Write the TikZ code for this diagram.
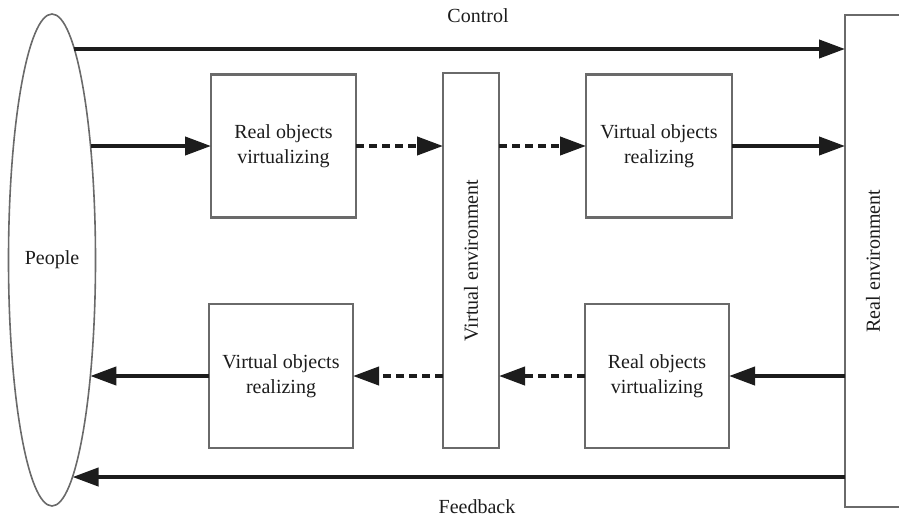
\documentclass[tikz,border=0pt]{standalone}
\usepackage{fontspec}
\setmainfont{Liberation Serif}
\usetikzlibrary{arrows.meta,shapes.geometric}

\definecolor{edge}{HTML}{6A6A6A}
\definecolor{ink}{HTML}{1C1C1C}

\tikzset{
  lbl/.style={font=\fontsize{20}{25}\selectfont, text=ink},
  block/.style={draw=edge, line width=2.4pt, fill=white, inner sep=0pt, outer sep=0pt,
    lbl, align=center},
  flow/.style={draw=ink, line width=4pt, -{Triangle[length=26pt,width=18pt]}},
  vflow/.style={flow, dash pattern=on 8pt off 5pt},
}

\begin{document}
\begin{tikzpicture}[x=1pt, y=-1pt]
  \useasboundingbox (0,0) rectangle (899,519);

  % people and the two environments
  \node[ellipse, draw=edge, line width=1.6pt, inner sep=0pt, outer sep=0pt,
        minimum width=87pt, minimum height=492pt, lbl] (people) at (52,260) {People};
  \node[block, minimum width=56pt, minimum height=375pt] (venv) at (471,260.5)
        {\rotatebox{90}{Virtual environment}};
  \node[block, minimum width=56pt, minimum height=492pt] (renv) at (873,261)
        {\rotatebox{90}{Real environment}};

  % points on the ellipse outline where the flows leave and arrive
  \coordinate (pCtl) at (74.4,49);
  \coordinate (pOut) at (90.5,146);
  \coordinate (pIn)  at (90.3,376);
  \coordinate (pFb)  at (72.5,477);

  % processing blocks
  \node[block, minimum width=145pt, minimum height=143pt] (rovA) at (283.5,146)
        {Real objects\\virtualizing};
  \node[block, minimum width=146pt, minimum height=143pt] (vorA) at (659,146)
        {Virtual objects\\realizing};
  \node[block, minimum width=144pt, minimum height=144pt] (vorB) at (281,376)
        {Virtual objects\\realizing};
  \node[block, minimum width=144pt, minimum height=144pt] (rovB) at (657,376)
        {Real objects\\virtualizing};

  % direct control and feedback
  \draw[flow] (pCtl) -- (pCtl -| renv.west);
  \draw[flow] (renv.west |- pFb) -- (pFb);
  \node[lbl] (ctl) at (478,16) {Control};
  \node[lbl] (fb) at (477,507) {Feedback};

  % forward chain
  \draw[flow] (pOut) -- (pOut -| rovA.west);
  \draw[vflow] (rovA.east) -- (rovA.east -| venv.west);
  \draw[vflow] (venv.east |- vorA.west) -- (vorA.west);
  \draw[flow] (vorA.east) -- (vorA.east -| renv.west);

  % backward chain
  \draw[flow] (renv.west |- rovB.east) -- (rovB.east);
  \draw[vflow] (rovB.west) -- (rovB.west -| venv.east);
  \draw[vflow] (venv.west |- vorB.east) -- (vorB.east);
  \draw[flow] (vorB.west) -- (pIn);
\end{tikzpicture}
\end{document}
